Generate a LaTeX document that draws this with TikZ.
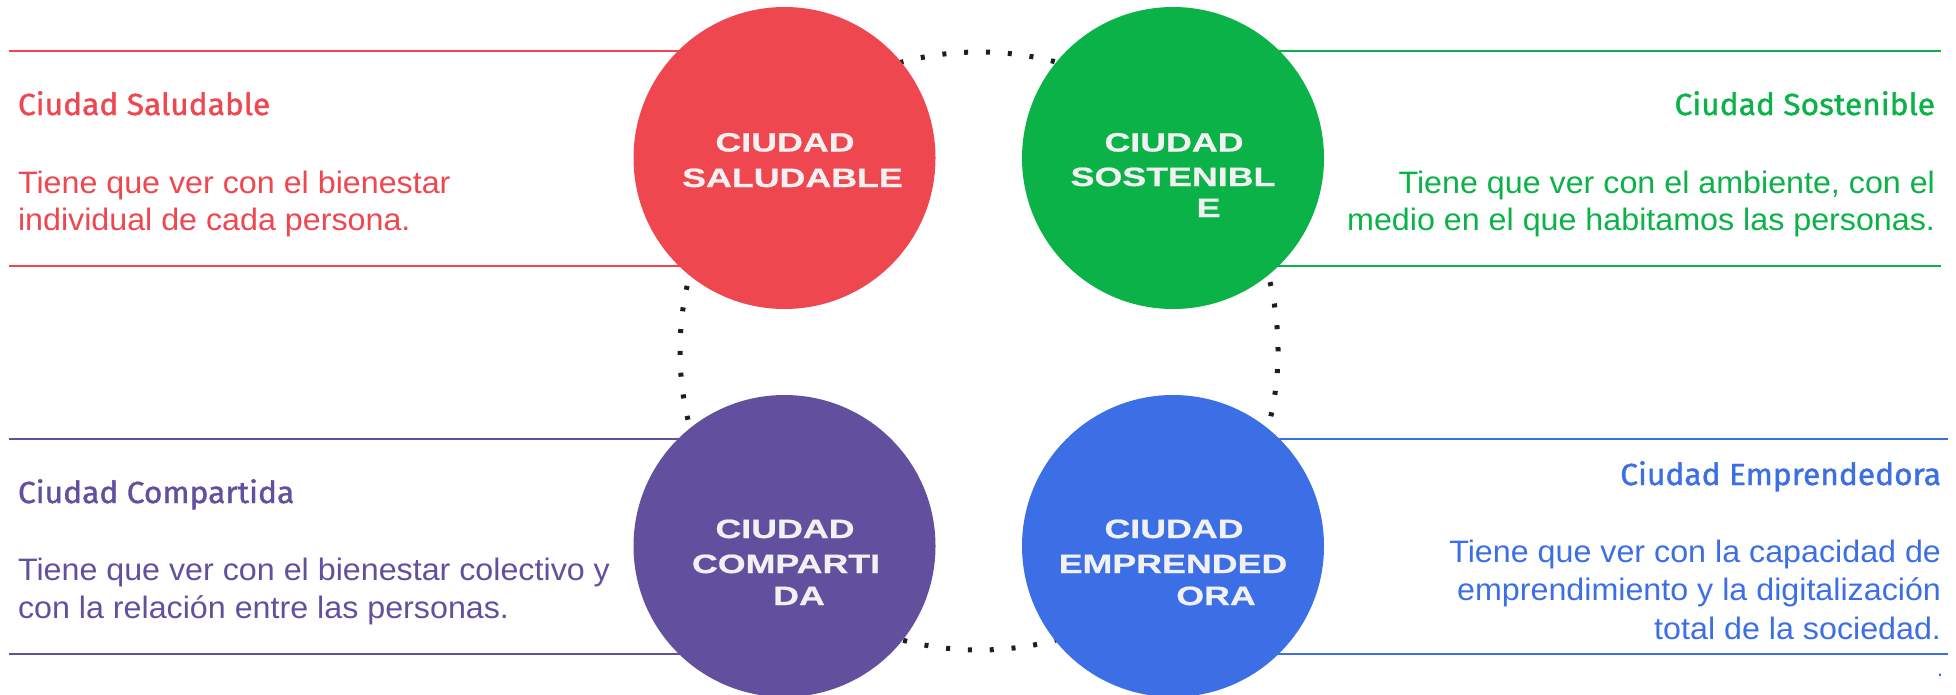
\documentclass[tikz,border=0pt]{standalone}
\usepackage{fontspec}
\usepackage{graphicx}
\setmainfont{Liberation Sans}[FakeStretch=1.04]
\newfontfamily\titlefont{Fira Sans}[FakeBold=1.2, FakeStretch=1.04]
\newfontfamily\circfont{Liberation Sans}[FakeStretch=1.35, FakeBold=0.8]
\definecolor{cred}{HTML}{EF4750}
\definecolor{cgreen}{HTML}{0AB247}
\definecolor{cpurple}{HTML}{62509E}
\definecolor{cblue}{HTML}{3C6EE5}
\definecolor{cwhite}{HTML}{F1F1F1}
\definecolor{cdot}{HTML}{1E1E1E}
\tikzset{
  hline/.style={line width=2.6pt},
  disc/.style={circle, minimum size=302pt, inner sep=0pt},
  ttl/.style={font=\titlefont\fontsize{30.5}{36}\selectfont},
  body/.style={font=\fontsize{31}{37}\selectfont},
  ctext/.style={font=\circfont\bfseries\fontsize{26.5}{32}\selectfont, text=cwhite, anchor=base},
  ring/.style={line width=5pt, dash pattern=on 4pt off 17.845pt, draw=cdot}
}
\begin{document}
\begin{tikzpicture}[x=1pt,y=-1pt, every node/.style={inner sep=0pt, outer sep=0pt}]
\useasboundingbox (0,0) rectangle (1956,694);
% centres
\coordinate (cR) at (784.5,158);
\coordinate (cG) at (1173,158);
\coordinate (cP) at (784.5,546);
\coordinate (cB) at (1173,546);
% horizontal rules
\coordinate (rl1) at (9,51);   \coordinate (rl2) at (9,266);
\coordinate (gl1) at (1941,51); \coordinate (gl2) at (1941,266);
\coordinate (pl1) at (9,439);  \coordinate (pl2) at (9,654);
\coordinate (bl1) at (1948,439); \coordinate (bl2) at (1948,654);
\draw[hline, cred] (rl1) -- (cR |- rl1);
\draw[hline, cred] (rl2) -- (cR |- rl2);
\draw[hline, cgreen] (gl1) -- (cG |- gl1);
\draw[hline, cgreen] (gl2) -- (cG |- gl2);
\draw[hline, cpurple] (pl1) -- (cP |- pl1);
\draw[hline, cpurple] (pl2) -- (cP |- pl2);
\draw[hline, cblue] (bl1) -- (cB |- bl1);
\draw[hline, cblue] (bl2) -- (cB |- bl2);
% dotted ring
\coordinate (ringc) at (979,351);
\draw[ring] (ringc) circle [radius=299pt];
% discs
\node[disc, fill=cred] (red) at (cR) {};
\node[disc, fill=cgreen] (green) at (cG) {};
\node[disc, fill=cpurple] (purple) at (cP) {};
\node[disc, fill=cblue] (blue) at (cB) {};
% disc labels
\node[ctext] (r1) at (785,151.5) {CIUDAD};
\node[ctext] (r2) at (792.5,187) {SALUDABLE};
\node[ctext] (g1) at (1174,151.5) {CIUDAD};
\node[ctext] (g2) at (1173,186) {SOSTENIBL};
\node[ctext] (g3) at (1208.6,217) {E};
\node[ctext] (p1) at (785,538) {CIUDAD};
\node[ctext] (p2) at (786,573) {COMPARTI};
\node[ctext] (p3) at (799,605) {DA};
\node[ctext] (b1) at (1174,538) {CIUDAD};
\node[ctext] (b2) at (1173,573) {EMPRENDED};
\node[ctext] (b3) at (1216,605) {ORA};
% side texts
\node[ttl, text=cred, anchor=base west] (rt) at (18,115) {Ciudad Saludable};
\node[body, text=cred, anchor=base west] (rb1) at (18,193) {Tiene que ver con el bienestar};
\node[body, text=cred, anchor=base west] (rb2) at (18,230) {individual de cada persona.};
\node[ttl, text=cgreen, anchor=base east] (gt) at (1935,115) {Ciudad Sostenible};
\node[body, text=cgreen, anchor=base east] (gb1) at (1935,193) {Tiene que ver con el ambiente, con el};
\node[body, text=cgreen, anchor=base east] (gb2) at (1935,230) {medio en el que habitamos las personas.};
\node[ttl, text=cpurple, anchor=base west] (pt) at (18,503) {Ciudad Compartida};
\node[body, text=cpurple, anchor=base west] (pb1) at (18,580) {Tiene que ver con el bienestar colectivo y};
\node[body, text=cpurple, anchor=base west] (pb2) at (18,618) {con la relación entre las personas.};
\node[ttl, text=cblue, anchor=base east] (bt) at (1941,485) {Ciudad Emprendedora};
\node[body, text=cblue, anchor=base east] (bb1) at (1941,562) {Tiene que ver con la capacidad de};
\node[body, text=cblue, anchor=base east] (bb2) at (1941,600) {emprendimiento y la digitalización};
\node[body, text=cblue, anchor=base east] (bb3) at (1941,639) {total de la sociedad.};
\node[font=\fontsize{22}{24}\selectfont, text=cblue, anchor=base] (bdot) at (1940,676) {.};
\end{tikzpicture}
\end{document}
